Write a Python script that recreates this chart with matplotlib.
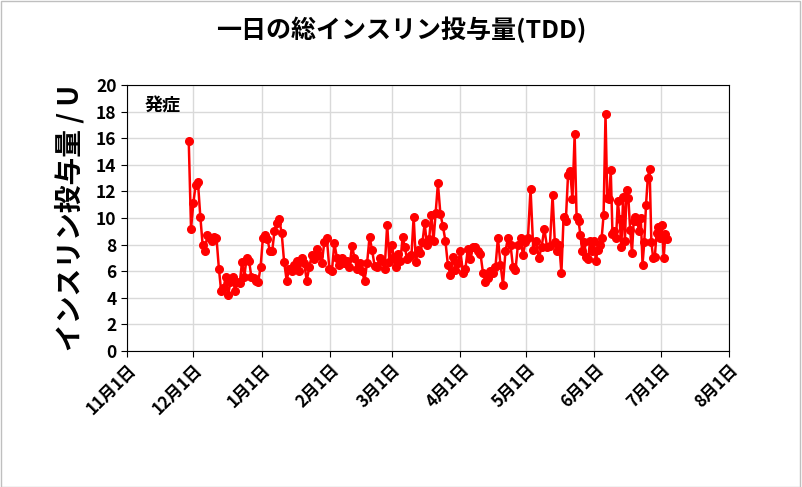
import matplotlib
matplotlib.use("Agg")
import matplotlib.pyplot as plt
import pandas as pd
import numpy as np

plt.rcParams["font.family"] = "Noto Sans CJK JP"

dec = [15.8, 9.2, 11.1, 12.5, 12.7, 10.1, 8.0, 7.5, 8.7, 8.5, 8.3, 8.6, 8.5, 6.2, 4.5, 4.7, 5.6, 4.2,
       5.2, 5.6, 4.5, 5.2, 5.1, 6.7, 5.6, 7.0, 6.8, 5.6, 5.5, 5.3, 5.2, 6.3, 8.5]
jan = [8.7, 8.4, 7.5, 7.5, 9.0, 9.6, 9.9, 8.9, 6.7, 5.3, 6.2, 6.0, 6.5, 6.8, 6.0, 7.0, 6.6, 5.3, 6.3,
       7.2, 6.9, 7.7, 7.2, 6.6, 8.2, 8.5, 6.2, 6.0, 8.1, 7.0, 6.5]
feb = [7.0, 6.6, 6.8, 6.3, 7.9, 7.0, 6.2, 6.6, 6.0, 5.3, 6.6, 8.6, 7.6, 6.4, 6.3, 7.0, 6.8, 6.2, 9.5,
       6.7, 8.0, 7.1, 6.3, 7.3, 6.8, 8.6, 7.8, 6.9]
mar = [7.1, 7.2, 10.1, 6.7, 7.6, 7.4, 8.2, 9.6, 8.0, 8.4, 10.2, 8.3, 10.4, 12.6, 10.3, 9.4, 8.3, 6.5,
       5.7, 7.1, 6.1, 6.6, 7.5, 5.9, 6.2, 7.7, 6.9, 7.8, 7.8, 7.5, 7.3]
apr = [5.9, 5.2, 5.5, 6.0, 5.9, 6.3, 8.5, 6.5, 5.0, 7.5, 8.5, 8.0, 6.3, 6.1, 8.0, 8.5, 7.2, 8.2, 8.5,
       12.2, 7.6, 8.3, 7.0, 7.8, 9.2, 7.8, 7.9, 11.7, 8.2, 7.5]
may = [8.0, 5.9, 10.1, 9.8, 13.2, 13.5, 11.4, 16.3, 10.1, 9.8, 8.7, 7.5, 8.2, 7.1, 6.9, 8.3, 7.5, 8.3,
       6.8, 7.6, 8.0, 8.5, 10.2, 17.8, 11.5, 11.4, 13.6, 8.8, 9.0, 8.5, 11.3]
jun = [9.9, 7.8, 11.6, 8.3, 12.1, 11.5, 9.1, 7.4, 9.8, 10.1, 9.8, 9.0, 10.0, 6.5, 8.2, 11.0, 13.0,
       13.7, 8.2, 7.0, 7.1, 8.9, 9.3, 8.5, 9.5, 7.0, 8.8, 8.4]
values = dec + jan + feb + mar + apr + may + jun

# dates of identifiable points (index in values -> date)
anchor_idx = [0, 39, 82, 105, 142, 150, 160, 176, 201, len(values) - 1]
anchor_dates = ["2022-11-29", "2023-01-09", "2023-02-27", "2023-03-22", "2023-05-03",
                "2023-05-13", "2023-05-23", "2023-06-06", "2023-06-26", "2023-07-04"]

anchor_num = pd.to_datetime(anchor_dates).values.astype("datetime64[h]").astype(float)
pos = np.interp(np.arange(len(values)), anchor_idx, anchor_num)
dates = pd.to_datetime(pos.astype("int64"), unit="h")

tick_dates = pd.date_range("2022-11-01", "2023-08-01", freq="MS")
tick_labels = [f"{d.month}月1日" for d in tick_dates]

fig = plt.figure(figsize=(8.02, 4.87), dpi=100)
fig.patches.append(plt.Rectangle((0.001, 0.001), 0.997, 0.997, transform=fig.transFigure,
                                 fill=False, edgecolor="#bfbfbf", linewidth=1))
ax = fig.add_axes([127/802, 1-351/487, (729-127)/802, (351-85)/487])
ax.plot(dates, values, color="#ff0000", lw=1.8, marker="o", ms=5.5, zorder=3)
ax.set_xlim(tick_dates[0], tick_dates[-1])
ax.set_ylim(0, 20)
ax.set_yticks(np.arange(0, 21, 2))
ax.set_xticks(tick_dates)
ax.set_xticklabels(tick_labels, rotation=45, ha="right", rotation_mode="anchor", fontsize=12, fontweight="bold")
for t in ax.get_yticklabels():
    t.set_fontsize(12.5); t.set_fontweight("bold")
ax.grid(True, color="#d9d9d9", lw=1)
ax.set_axisbelow(True)
for s in ax.spines.values():
    s.set_color("#000000")
ax.tick_params(length=4, direction="out")
ax.set_ylabel("インスリン投与量 / U", fontsize=20, fontweight="bold", labelpad=8)
ax.text(0.03, 0.92, "発症", transform=ax.transAxes, fontsize=13, fontweight="bold", va="center")
fig.suptitle("一日の総インスリン投与量(TDD)", fontsize=18, fontweight="bold", y=0.965)
fig.savefig("out.png", dpi=100)
